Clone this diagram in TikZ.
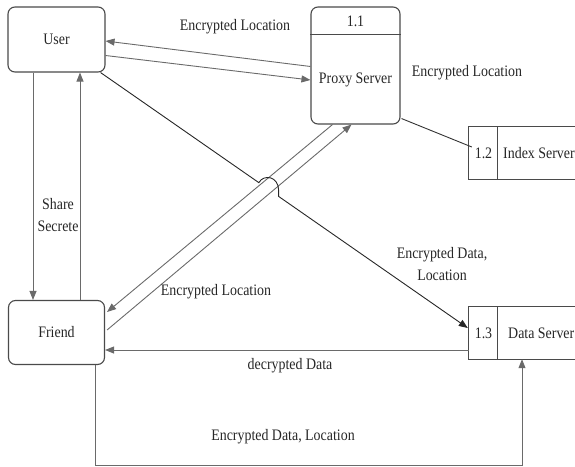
\documentclass[tikz,border=0pt]{standalone}
\usepackage{fontspec}
\setmainfont{Liberation Serif}[FakeStretch=0.87]
\usetikzlibrary{arrows.meta,calc}
\definecolor{boxline}{HTML}{4A4A4A}
\definecolor{flowline}{HTML}{6A6A6A}
\begin{document}
\begin{tikzpicture}[x=1pt,y=-1pt,
  every node/.style={font=\fontsize{16}{22}\selectfont, inner sep=0pt},
  entity/.style={draw=boxline, line width=1.1pt, rounded corners=7pt},
  flow/.style={draw=flowline, line width=0.9pt, -{Triangle[length=9pt,width=7pt]}, color=flowline},
  darkflow/.style={draw=black!80, line width=0.9pt, -{Triangle[length=9pt,width=7pt]}, color=black!85},
  plainline/.style={draw=black!80, line width=0.9pt},
  storeline/.style={draw=boxline, line width=1.1pt},
  lbl/.style={text=black!85, align=center}]
\useasboundingbox (0,0) rectangle (575,466);
\clip (0,0) rectangle (575,466);

% entities
\node[entity, minimum width=97pt, minimum height=65pt] (user) at (56.5,39.5) {};
\node[lbl] (usertxt) at (user.center) {User};
\node[entity, minimum width=96pt, minimum height=64pt] (friend) at (56.5,332.5) {};
\node[lbl] (friendtxt) at (friend.center) {Friend};

% proxy process
\node[entity, minimum width=89pt, minimum height=117pt] (proxy) at (355.5,65.5) {};
\draw[storeline] ([yshift=-28]proxy.north west) -- ([yshift=-28]proxy.north east);
\node[lbl] (pnum) at (355.5,21) {1.1};
\node[lbl] (ptxt) at (355.5,80) {Proxy Server};

% data stores
\node[minimum width=106pt, minimum height=52pt] (idx) at (522,153) {};
\draw[storeline] (idx.north east) -- (idx.north west) -- (idx.south west) -- (idx.south east);
\draw[storeline] ([xshift=29]idx.north west) -- ([xshift=29]idx.south west);
\node[lbl] (inum) at (483.5,153) {1.2};
\node[lbl, anchor=west] (itxt) at (503,153) {Index Server};

\node[minimum width=106pt, minimum height=52pt] (data) at (522,333) {};
\draw[storeline] (data.north east) -- (data.north west) -- (data.south west) -- (data.south east);
\draw[storeline] ([xshift=29]data.north west) -- ([xshift=29]data.south west);
\node[lbl] (dnum) at (483.5,333) {1.3};
\node[lbl, anchor=west] (dtxt) at (508,333) {Data Server};

% flows user <-> proxy
\draw[flow] ([yshift=-1]proxy.west) -- ([yshift=-1.5]user.east);
\draw[flow] ([yshift=-16]user.east) -- ([yshift=-14.5]proxy.west);
\node[lbl] (l1) at (235,27) {Encrypted Location};

% proxy -> index
\draw[plainline] ([xshift=1,yshift=6]proxy.south east) -- ([xshift=3,yshift=6]idx.west);
\node[lbl] (l2) at (467,73) {Encrypted Location};

% user <-> friend
\draw[flow] ([xshift=-23.5]user.south) -- ([xshift=-23.5]friend.north);
\draw[flow] ([xshift=23.5]friend.north) -- ([xshift=23.5]user.south);
\node[lbl] (l3) at (58,215) {Share\\Secrete};

% proxy <-> friend
\draw[flow] ([xshift=-23]proxy.south) -- ([xshift=2,yshift=20.5]friend.east);
\draw[flow] ([xshift=2,yshift=2.5]friend.east) -- ([xshift=-4]proxy.south);
\node[lbl] (l4) at (216,292) {Encrypted Location};

% user -> data store with hop
\coordinate (ua) at ([xshift=-5]user.south east);
\coordinate (db) at ([xshift=-1,yshift=5]data.west);
\coordinate (h1) at ($(ua)!0.431!(db)$);
\coordinate (h2) at ($(ua)!0.485!(db)$);
\draw[darkflow] (ua) -- (h1) .. controls ($(h1)+(5,-9)$) and ($(h2)+(0,-20)$) .. ($(h2)+(0,-6)$) -- (h2) -- (db);
\node[lbl] (l5) at (442,264) {Encrypted Data,\\Location};

% data -> friend
\draw[flow] ([yshift=-17]data.west) -- ([yshift=-17]data.west -| friend.east);
\node[lbl] (l6) at (290,366) {decrypted Data};

% friend -> data (bottom)
\draw[darkflow, draw=flowline] ([xshift=38.5]friend.south) -- ++(0,100.5) -| (data.south);
\node[lbl] (l7) at (283,437) {Encrypted Data, Location};
\end{tikzpicture}
\end{document}
